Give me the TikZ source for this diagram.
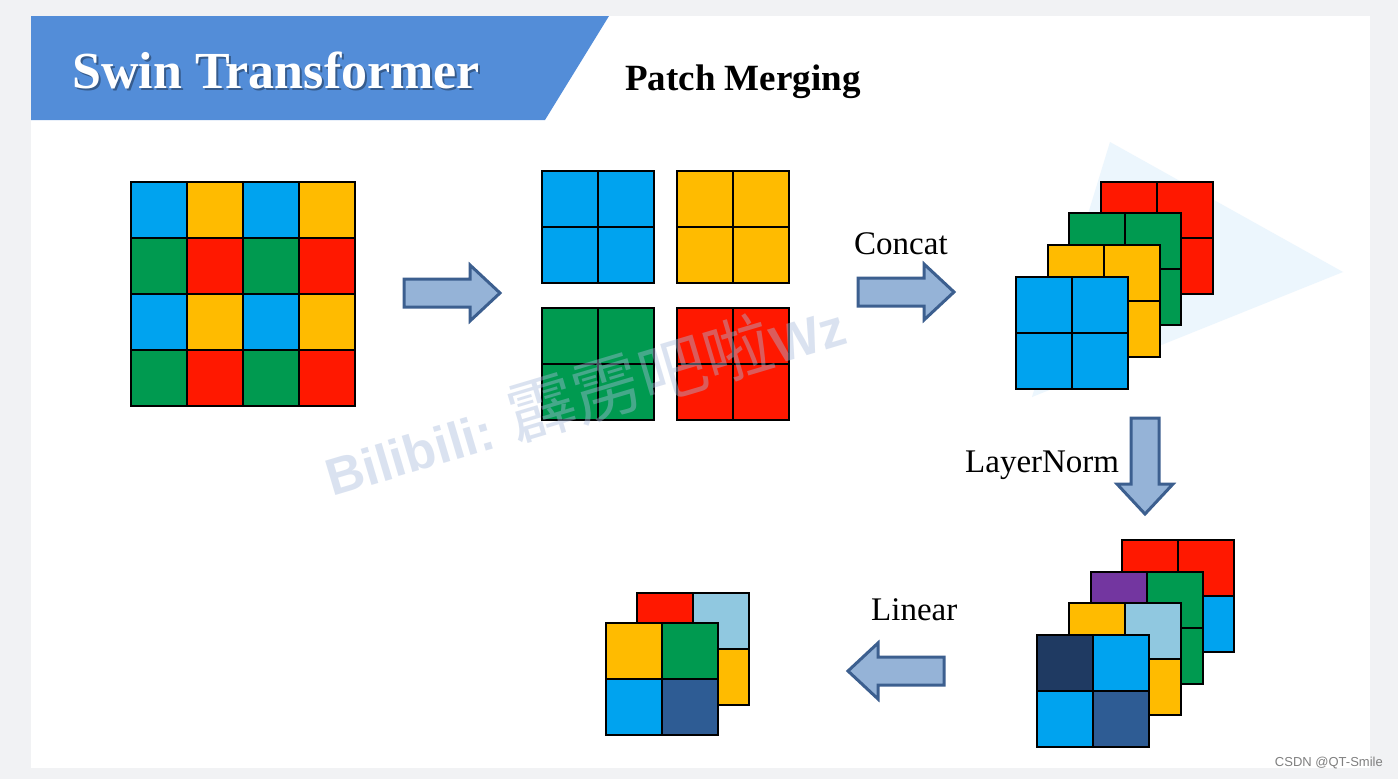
\documentclass[tikz,border=0pt]{standalone}
\usepackage{fontspec}
\setmainfont{Liberation Serif}
\newfontfamily\wmfont{Liberation Sans}
\newfontfamily\cjk{Noto Sans CJK SC}

\definecolor{pagegray}{HTML}{F1F2F4}
\definecolor{headblue}{HTML}{538DD8}
\definecolor{cellblue}{HTML}{00A3EF}
\definecolor{cellyellow}{HTML}{FFBB00}
\definecolor{cellgreen}{HTML}{009A50}
\definecolor{cellred}{HTML}{FF1800}
\definecolor{cellpurple}{HTML}{7336A0}
\definecolor{celllight}{HTML}{90C8E0}
\definecolor{cellnavy}{HTML}{1F3A62}
\definecolor{cellsteel}{HTML}{2E5C94}
\definecolor{arrowfill}{HTML}{95B3D7}
\definecolor{arrowedge}{HTML}{3C5F8F}
\definecolor{wmblue}{HTML}{A9BCDC}
\definecolor{triblue}{HTML}{ECF6FD}

\tikzset{
  cell/.style={draw=black,line width=1.8pt},
  arrowbody/.style={fill=arrowfill,draw=arrowedge,line width=3pt,line join=miter},
  blockarrow/.pic={\draw[arrowbody] (-48,-14) -- (18,-14) -- (18,-28) -- (48,0) -- (18,28) -- (18,14) -- (-48,14) -- cycle;},
  steplabel/.style={font=\fontsize{33}{40}\selectfont,inner sep=0pt},
}

% one 2x2 patch: x, y (top left), then tl, tr, bl, br
\newcommand{\patch}[6]{%
  \fill[#3] (#1,#2) rectangle ++(56,56);
  \fill[#4] (#1+56,#2) rectangle ++(56,56);
  \fill[#5] (#1,#2+56) rectangle ++(56,56);
  \fill[#6] (#1+56,#2+56) rectangle ++(56,56);
  \draw[cell] (#1+56,#2) -- ++(0,112);
  \draw[cell] (#1,#2+56) -- ++(112,0);
  \draw[cell] (#1,#2) rectangle ++(112,112);
}

\begin{document}
\begin{tikzpicture}[x=1pt,y=-1pt]
\useasboundingbox (0,0) rectangle (1398,779);
\fill[pagegray] (0,0) rectangle (1398,779);
\fill[white] (31,16) rectangle (1370,768);

% header
\fill[headblue] (31,16) -- (609,16) -- (545,120) -- (31,120) -- cycle;
\node[anchor=base west,inner sep=0pt,text=black,opacity=0.35,font=\fontsize{52}{60}\selectfont\bfseries] at (74,90) {Swin Transformer};
\node[anchor=base west,inner sep=0pt,text=white,font=\fontsize{52}{60}\selectfont\bfseries] (title) at (72,88) {Swin Transformer};
\node[anchor=base west,inner sep=0pt,font=\fontsize{37}{44}\selectfont\bfseries] (subtitle) at (625,90) {Patch Merging};

% background triangle
\fill[triblue] (1110,142) -- (1343,272) -- (1032,397) -- cycle;

% input 4x4
\foreach \r/\ca/\cb in {0/cellblue/cellyellow,1/cellgreen/cellred,2/cellblue/cellyellow,3/cellgreen/cellred}
  \foreach \c/\col in {0/\ca,1/\cb,2/\ca,3/\cb}
    \draw[cell,fill=\col] (131+56*\c,182+56*\r) rectangle ++(56,56);

\pic (arrsplit) at (452,293) {blockarrow};

% four groups
\patch{542}{171}{cellblue}{cellblue}{cellblue}{cellblue}
\patch{677}{171}{cellyellow}{cellyellow}{cellyellow}{cellyellow}
\patch{542}{308}{cellgreen}{cellgreen}{cellgreen}{cellgreen}
\patch{677}{308}{cellred}{cellred}{cellred}{cellred}

\node[steplabel,anchor=base west] (concat) at (854,254) {Concat};
\pic (arrconcat) at (906,292) {blockarrow};

% concatenated stack
\patch{1101}{182}{cellred}{cellred}{cellred}{cellred}
\patch{1069}{213}{cellgreen}{cellgreen}{cellgreen}{cellgreen}
\patch{1048}{245}{cellyellow}{cellyellow}{cellyellow}{cellyellow}
\patch{1016}{277}{cellblue}{cellblue}{cellblue}{cellblue}

\node[steplabel,anchor=base west] (norm) at (965,472) {LayerNorm};
\pic[rotate=-90] (arrnorm) at (1145,466) {blockarrow};

% normalized stack
\patch{1122}{540}{cellred}{cellred}{cellblue}{cellblue}
\patch{1091}{572}{cellpurple}{cellgreen}{cellgreen}{cellgreen}
\patch{1069}{603}{cellyellow}{celllight}{cellyellow}{cellyellow}
\patch{1037}{635}{cellnavy}{cellblue}{cellblue}{cellsteel}

\node[steplabel,anchor=base west] (linear) at (871,620) {Linear};
\pic[rotate=180] (arrlinear) at (896,671) {blockarrow};

% output
\patch{637}{593}{cellred}{celllight}{cellyellow}{cellyellow}
\patch{606}{623}{cellyellow}{cellgreen}{cellblue}{cellsteel}

% watermark
\node[anchor=base west,inner sep=0pt,rotate=16.6,text=wmblue,opacity=0.42] (mark) at (332,497)
  {\fontsize{52}{60}\selectfont\wmfont\bfseries Bilibili: {\mdseries\fontsize{68}{72}\selectfont\cjk 霹雳吧啦}Wz};

\node[anchor=base east,inner sep=0pt,text=gray,font=\fontsize{13}{15}\selectfont\wmfont] (csdn) at (1383,766) {CSDN @QT-Smile};
\end{tikzpicture}
\end{document}
